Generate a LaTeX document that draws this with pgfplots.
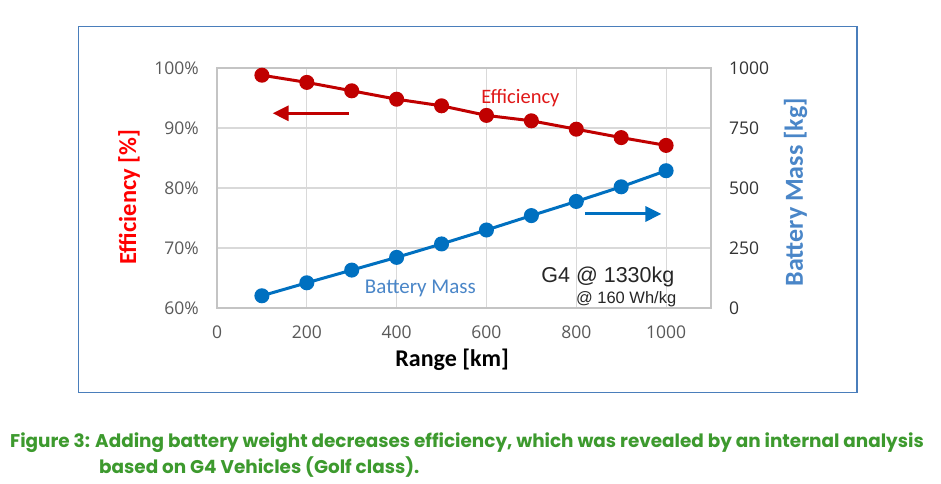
\documentclass[border=0pt]{standalone}
\usepackage{fontspec}
\setmainfont{Carlito}
\newfontfamily\tickfont{Open Sans}
\newfontfamily\arialfont{Liberation Sans}
\newfontfamily\capfont{Poppins}
\usepackage{pgfplots}
\pgfplotsset{compat=1.18}
\usetikzlibrary{arrows.meta}
\definecolor{effred}{HTML}{C00000}
\definecolor{massblue}{HTML}{0070C0}
\definecolor{labred}{HTML}{FF0000}
\definecolor{txtred}{HTML}{E01818}
\definecolor{labblue}{HTML}{4A86C8}
\definecolor{tickgrey}{HTML}{595959}
\definecolor{tickdark}{HTML}{333333}
\definecolor{gridgrey}{HTML}{D9D9D9}
\definecolor{axgrey}{HTML}{C4C4C4}
\definecolor{boxblue}{HTML}{4A7EBB}
\definecolor{capgreen}{HTML}{3D9A2E}
\pgfplotsset{/pgf/number format/assume math mode=true, /pgf/number format/1000 sep={}}
\begin{document}
\begin{tikzpicture}[x=1pt,y=1pt]
\useasboundingbox (0,0) rectangle (941,483);
\fill[white] (0,0) rectangle (941,483);
\draw[boxblue, line width=1.5pt] (78.3,90.7) rectangle (857,456.3);
\begin{axis}[
  at={(217pt,175pt)}, anchor=south west,
  scale only axis, width=494pt, height=240pt,
  xmin=0, xmax=1100, ymin=60, ymax=100,
  xtick={0,200,...,1000}, ytick={60,70,...,100},
  yticklabel={\pgfmathprintnumber{\tick}\%},
  grid=major, major grid style={gridgrey, line width=1.2pt},
  axis line style={axgrey, line width=1.2pt},
  major tick length=0pt,
  every tick label/.append style={font=\tickfont\fontsize{17.5}{20}\selectfont, text=tickgrey},
  yticklabel style={anchor=east, inner sep=0pt, xshift=-18pt},
  xticklabel style={anchor=north, inner sep=0pt, yshift=-18pt},
  xlabel={Range [km]},
  xlabel style={at={(axis description cs:0.476,-0.2417)}, anchor=base, inner sep=0pt, font=\bfseries\fontsize{24}{28}\selectfont, text=black},
  ylabel={Efficiency [\%]},
  ylabel style={at={(axis description cs:-0.178,0.4625)}, anchor=center, rotate=0, inner sep=0pt, font=\bfseries\fontsize{24.5}{28}\selectfont, text=labred},
  clip=false,
]
\addplot[effred, line width=3pt, mark=*, mark size=6pt, mark options={solid, fill=effred, draw=effred}]
  coordinates {(100,98.8) (200,97.6) (300,96.2) (400,94.8) (500,93.7) (600,92.1) (700,91.2) (800,89.8) (900,88.4) (1000,87.1)};
\draw[effred, line width=3pt, -{Triangle[length=16pt,width=15pt]}] (axis cs:293,92.45) -- (axis cs:124,92.45);
\draw[massblue, line width=3pt, -{Triangle[length=16pt,width=15pt]}] (axis cs:819,75.67) -- (axis cs:989.6,75.67);
\node[anchor=base, inner sep=0pt, text=txtred, font=\fontsize{20.5}{24}\selectfont] at (axis cs:675.6,94.08) {Efficiency};
\node[anchor=base, inner sep=0pt, text=labblue, font=\fontsize{21}{24}\selectfont] at (axis cs:453,62.5) {Battery Mass};
\node[anchor=base, inner sep=0pt, text=black!85, font=\arialfont\fontsize{21.5}{24}\selectfont] at (axis cs:870.4,64.22) {G4 @ 1330kg};
\node[anchor=base, inner sep=0pt, text=black!85, font=\arialfont\fontsize{16.5}{20}\selectfont] at (axis cs:911,60.83) {@ 160 Wh/kg};
\end{axis}
\begin{axis}[
  at={(217pt,175pt)}, anchor=south west,
  scale only axis, width=494pt, height=240pt,
  xmin=0, xmax=1100, ymin=0, ymax=1000,
  axis x line=none, axis y line*=right,
  ytick={0,250,...,1000},
  axis line style={axgrey, line width=1.2pt},
  major tick length=0pt,
  every tick label/.append style={font=\tickfont\fontsize{17.5}{20}\selectfont, text=tickdark},
  yticklabel style={anchor=west, inner sep=0pt, xshift=18pt},
  ylabel={Battery Mass [kg]},
  ylabel style={at={(axis description cs:1.171,0.483)}, anchor=center, rotate=0, inner sep=0pt, font=\bfseries\fontsize{26}{30}\selectfont, text=labblue},
  clip=false,
]
\addplot[massblue, line width=3pt, mark=*, mark size=6pt, mark options={solid, fill=massblue, draw=massblue}]
  coordinates {(100,51) (200,105) (300,158) (400,211) (500,267) (600,325) (700,385) (800,444) (900,505) (1000,572)};
\end{axis}
\node[anchor=base west, inner sep=0pt, text=capgreen, font=\capfont\bfseries\fontsize{18.4}{22}\selectfont] at (10,36) {Figure 3: Adding battery weight decreases efficiency, which was revealed by an internal analysis};
\node[anchor=base west, inner sep=0pt, text=capgreen, font=\capfont\bfseries\fontsize{18.4}{22}\selectfont] at (99,10) {based on G4 Vehicles (Golf class).};
\end{tikzpicture}
\end{document}
